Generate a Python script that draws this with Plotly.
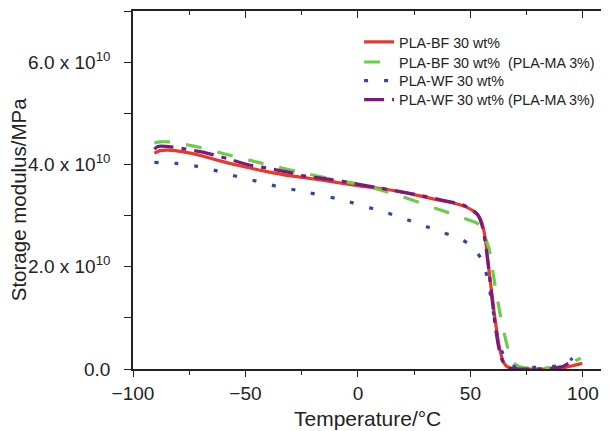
import plotly.graph_objects as go

# ---- data (temperature in °C, storage modulus in MPa) ----
names = ["PLA-BF 30 wt%", "PLA-BF 30 wt%\u00a0 (PLA-MA 3%)", "PLA-WF 30 wt%", "PLA-WF 30 wt% (PLA-MA 3%)"]

bf_T = [-90.5, -88, -84, -77, -70.5, -64, -57, -50, -44, -37, -30.5, -22, -11, 0.6, 10, 18.3, 27, 36, 42, 48,
        52.4, 54.5, 56, 57.2, 58.4, 59.5, 60.6, 61.7, 62.8, 64, 65, 66.5, 68.6, 75, 82, 88, 92, 96, 99.7]
bf_E = [4.22e10, 4.27e10, 4.28e10, 4.24e10, 4.18e10, 4.10e10, 4.02e10, 3.95e10, 3.89e10, 3.83e10, 3.78e10, 3.73e10,
        3.66e10, 3.58e10, 3.53e10, 3.47e10, 3.39e10, 3.30e10, 3.25e10, 3.17e10, 3.05e10, 2.93e10, 2.70e10, 2.35e10,
        1.87e10, 1.48e10, 1.09e10, 0.74e10, 0.44e10, 0.22e10, 0.11e10, 0.04e10, 0.01e10, 0.0, 0.0, 0.01e10,
        0.03e10, 0.07e10, 0.11e10]

bfma_T = [-90.5, -88, -84, -78, -72, -57, -42.5, -26, -11.3, 2, 10, 19.8, 27, 34.7, 42, 49.5, 53, 55.5, 57, 58.4,
          59.8, 61.3, 62.8, 64.3, 65.8, 67.2, 68.7, 70.2, 73, 80, 88, 93, 96, 99]
bfma_E = [4.42e10, 4.44e10, 4.44e10, 4.40e10, 4.35e10, 4.18e10, 4.02e10, 3.85e10, 3.71e10, 3.60e10, 3.50e10,
          3.37e10, 3.26e10, 3.14e10, 3.03e10, 2.91e10, 2.85e10, 2.70e10, 2.52e10, 2.33e10, 1.95e10, 1.54e10,
          1.17e10, 0.83e10, 0.55e10, 0.31e10, 0.16e10, 0.08e10, 0.03e10, 0.02e10, 0.03e10, 0.09e10, 0.15e10, 0.21e10]

wf_T = [-90.5, -81, -71.3, -62.4, -53.5, -43.9, -35, -25.4, -8.3, 10.9, 20, 28.7, 38.4, 46.5, 51, 54.7, 56.5,
        57.6, 58.7, 59.8, 61, 62, 63.2, 64.3, 65.8, 67.2, 70, 77.5, 85, 90.8, 95.4]
wf_E = [4.04e10, 4.02e10, 3.96e10, 3.87e10, 3.76e10, 3.66e10, 3.56e10, 3.48e10, 3.32e10, 3.08e10, 2.95e10,
        2.81e10, 2.66e10, 2.52e10, 2.40e10, 2.16e10, 1.95e10, 1.77e10, 1.50e10, 1.22e10, 0.90e10, 0.63e10,
        0.43e10, 0.31e10, 0.15e10, 0.08e10, 0.04e10, 0.03e10, 0.04e10, 0.08e10, 0.21e10]

wfma_T = [-90.5, -89, -84, -78, -69, -58.5, -48.3, -39.4, -29, -26, -11.4, 9.5, 25.8, 37.7, 46.5, 51, 53.5, 55.5,
          56.9, 58, 59, 60.1, 61.3, 62.4, 63.5, 65, 67, 72, 80, 87, 91, 95.4]
wfma_E = [4.30e10, 4.35e10, 4.35e10, 4.31e10, 4.24e10, 4.12e10, 3.99e10, 3.92e10, 3.83e10, 3.79e10, 3.70e10,
          3.54e10, 3.41e10, 3.30e10, 3.21e10, 3.11e10, 3.00e10, 2.75e10, 2.39e10, 2.00e10, 1.61e10, 1.18e10,
          0.76e10, 0.46e10, 0.24e10, 0.10e10, 0.02e10, 0.0, 0.0, 0.01e10, 0.05e10, 0.16e10]

y_tickvals = [0, 2e10, 4e10, 6e10]
y_ticktext = ["0.0", "2.0 x 10<sup>10</sup>", "4.0 x 10<sup>10</sup>", "6.0 x 10<sup>10</sup>"]
x_tickvals = [-100, -50, 0, 50, 100]
x_ticktext = ["\u2212100", "\u221250", "0", "50", "100"]
x_title = "Temperature/\u00b0C"
y_title = "Storage modulus/MPa"

colors = ["#e8382a", "#6acd48", "#2d46a8", "#7a1a7e"]
dashes = ["solid", "16px,16px", "4px,16px", "20px,8px,5px,8px"]
legend_ids = ["legend", "legend2", "legend3", "legend4"]
legend_rows = [0.913, 0.857, 0.805, 0.752]

fig = go.Figure()
series = [(bf_T, bf_E), (bfma_T, bfma_E), (wf_T, wf_E), (wfma_T, wfma_E)]
for (t, e), n, c, d, lg in zip(series, names, colors, dashes, legend_ids):
    fig.add_trace(go.Scatter(x=t, y=e, name=n, mode="lines", legend=lg,
                             line=dict(color=c, width=3.2, dash=d, shape="spline", smoothing=0.5)))

axis_font = dict(family="Liberation Sans, Arial, sans-serif", size=19, color="#222")
legend_style = dict(x=0.475, xanchor="left", yanchor="middle", bgcolor="rgba(0,0,0,0)",
                    font=dict(size=14.3, color="#222"))
# page body has an 8px margin, so the figure is 8px smaller and its margins compensate
fig.update_layout(
    width=601, height=423,
    margin=dict(l=125, r=0, t=3, b=62, autoexpand=False),
    paper_bgcolor="white", plot_bgcolor="white",
    font=dict(family="Liberation Sans, Arial, sans-serif", color="#222"),
    showlegend=True,
    xaxis=dict(range=[-100, 111.6], tickvals=x_tickvals, ticktext=x_ticktext, tickfont=axis_font,
               automargin=False,
               showgrid=False, zeroline=False, showline=True, linecolor="#222", linewidth=1.5,
               ticks="outside", ticklen=6, tickwidth=1.3, tickcolor="#222", ticklabelstandoff=0,
               minor=dict(dtick=25, tick0=-100, ticks="outside", ticklen=4, tickwidth=1.2, tickcolor="#222")),
    xaxis2=dict(range=[-100, 111.6], overlaying="x", side="top", matches="x", showticklabels=False,
                automargin=False,
                showgrid=False, zeroline=False, showline=True, linecolor="#222", linewidth=1.5,
                tickvals=[-100, -50, 0, 50, 100], ticks="inside", ticklen=7, tickwidth=1.3, tickcolor="#222",
                minor=dict(dtick=25, tick0=-100, ticks="inside", ticklen=4, tickwidth=1.2, tickcolor="#222")),
    yaxis=dict(range=[0, 7e10], tickvals=y_tickvals, ticktext=y_ticktext, tickfont=axis_font,
               automargin=False,
               showgrid=False, zeroline=False, showline=True, linecolor="#222", linewidth=1.5,
               ticks="outside", ticklen=7, tickwidth=1.3, tickcolor="#222", ticklabelstandoff=10,
               minor=dict(dtick=1e10, tick0=0, ticks="outside", ticklen=7, tickwidth=1.2, tickcolor="#222")),
    annotations=[
        dict(text=y_title, textangle=-90, xref="paper", yref="paper",
             x=-0.24, y=0.4735, xanchor="center", yanchor="middle", showarrow=False,
             font=dict(size=20.5, color="#222")),
        dict(text=x_title, xref="paper", yref="paper",
             x=0.4926, y=-0.137, xanchor="center", yanchor="middle", showarrow=False,
             font=dict(size=21, color="#222")),
    ],
)
for lg, yrow in zip(legend_ids, legend_rows):
    fig.update_layout({lg: dict(legend_style, y=yrow)})

# invisible point so the top axis is drawn
fig.add_trace(go.Scatter(x=[0], y=[0], xaxis="x2", mode="markers", marker=dict(opacity=0),
                         showlegend=False, hoverinfo="skip"))

fig.write_html("out.html")
